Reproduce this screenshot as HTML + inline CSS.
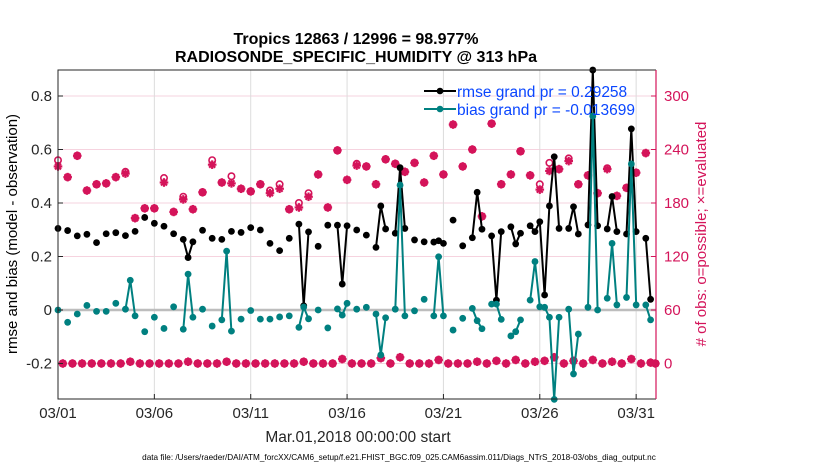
<!DOCTYPE html>
<html><head><meta charset="utf-8"><style>
body{margin:0;background:#fff;}
svg{display:block;font-family:"Liberation Sans",Arial,sans-serif;}
</style></head><body>
<svg id="chart" width="830" height="470" viewBox="0 0 830 470" xmlns="http://www.w3.org/2000/svg">
<rect width="830" height="470" fill="#fff"/>
<text x="356" y="44" font-size="16" font-weight="bold" text-anchor="middle">Tropics 12863 / 12996 = 98.977%</text>
<text x="356" y="62" font-size="16" font-weight="bold" text-anchor="middle">RADIOSONDE_SPECIFIC_HUMIDITY @ 313 hPa</text>
<g id="grid"></g>
<g id="marks"></g>
<g id="axes"></g>
<text transform="translate(17,234) rotate(-90)" font-size="15" text-anchor="middle">rmse and bias (model - observation)</text>
<text transform="translate(706,234) rotate(-90)" font-size="15" fill="#d4145a" text-anchor="middle"># of obs: o=possible; ×=evaluated</text>
<text x="358" y="442" font-size="15.5" text-anchor="middle" fill="#262626">Mar.01,2018 00:00:00 start</text>
<text x="399" y="460" font-size="8.2" text-anchor="middle">data file: /Users/raeder/DAI/ATM_forcXX/CAM6_setup/f.e21.FHIST_BGC.f09_025.CAM6assim.011/Diags_NTrS_2018-03/obs_diag_output.nc</text>
<g id="legend">
<line x1="424" y1="91" x2="456" y2="91" stroke="#000" stroke-width="2"/><circle cx="440" cy="91" r="3.3" fill="#000"/>
<text x="457" y="97" font-size="15.5" fill="#0a46ff">rmse grand pr = 0.29258</text>
<line x1="424" y1="109" x2="456" y2="109" stroke="#008080" stroke-width="2"/><circle cx="440" cy="109" r="3.3" fill="#008080"/>
<text x="457" y="115" font-size="15.5" fill="#0a46ff">bias grand pr = -0.013699</text>
</g>
</svg>
<script>
// 12-hourly values (t = 0, 0.5, ..., 31 days)
var rmse12=[0.305,0.297,0.277,0.283,0.252,0.285,0.289,0.278,0.294,0.346,0.324,0.313,0.285,0.264,0.255,0.298,0.268,0.264,0.294,0.290,0.308,0.299,0.249,0.222,0.268,0.321,0.292,0.238,0.317,0.317,0.315,0.299,0.280,0.234,0.303,0.287,0.305,0.262,0.255,0.254,0.249,0.336,0.240,0.270,0.302,0.277,0.293,0.311,0.287,0.315,0.330,0.389,0.305,0.305,0.284,0.318,0.315,0.303,0.293,0.284,0.293,0.268,null];
var bias12=[0.0,-0.046,-0.015,0.017,-0.005,-0.005,0.025,0.003,-0.022,-0.081,-0.027,-0.069,0.012,-0.072,-0.027,0.003,-0.06,-0.037,-0.079,-0.034,-0.002,-0.034,-0.034,-0.026,-0.022,-0.065,-0.033,0.0,-0.067,0.004,0.025,0.003,0.01,-0.015,-0.029,0.003,-0.022,-0.003,0.04,-0.022,-0.022,-0.075,-0.031,0.006,-0.07,0.022,-0.035,-0.097,-0.037,0.037,0.012,-0.027,-0.027,0.003,-0.09,0.01,0.0,0.044,0.019,0.047,0.019,0.019,null];
var used12=[221,209,233,194,201,202,209,213,163,174,174,203,170,184,173,192,223,203,202,196,193,201,191,196,173,175,187,212,175,239,206,222,221,201,229,224,215,225,203,233,212,268,221,240,165,269,201,212,238,211,195,216,218,227,201,211,191,218,188,197,214,236,0];
var poss12=[228,209,233,194,201,202,209,215,163,174,174,208,170,187,173,192,228,203,210,196,193,201,194,201,173,180,191,212,175,239,206,224,221,201,229,224,215,225,203,233,212,268,221,240,165,269,201,212,238,211,201,225,218,230,201,211,191,219,188,197,214,236,0];
// 6-hour offset values (t = 0.25, 0.75, ..., 30.75 days)
var rmse06=[null,null,null,null,null,null,null,null,null,null,null,null,null,0.196,null,null,null,null,null,null,null,null,null,null,null,0.016,null,null,null,0.097,null,null,null,0.389,null,0.532,null,null,null,0.259,null,null,null,0.44,null,0.037,null,0.247,null,0.293,0.056,0.573,null,0.386,null,0.897,null,0.424,null,0.677,null,0.04];
var bias06=[null,null,null,null,null,null,null,0.111,null,null,null,null,null,0.134,null,null,null,0.22,null,null,null,null,null,null,null,0.011,null,null,null,-0.019,null,null,null,-0.168,null,0.467,null,null,null,0.199,null,null,null,-0.04,null,0.022,null,-0.081,null,0.181,0.01,-0.334,null,-0.239,null,0.725,null,0.249,null,0.546,null,-0.037];
var used06=[0,0,0,0,0,0,0,2,0,0,0,0,0,2,0,0,0,2,0,0,0,0,0,0,0,2,0,0,0,5,0,0,0,6,0,7,0,0,0,4,0,0,0,2,0,3,0,4,0,2,3,7,0,3,0,4,0,2,0,5,0,1];
var xTickDays=[0,5,10,15,20,25,30];
var xTickLabels=["03/01","03/06","03/11","03/16","03/21","03/26","03/31"];
var yTicksL=[-0.2,0,0.2,0.4,0.6,0.8];
var yTickLabelsL=["-0.2","0","0.2","0.4","0.6","0.8"];
var yTicksR=[0,60,120,180,240,300];

var NS="http://www.w3.org/2000/svg";
var L=58,R=656,T=70,B=399,X0=0,X1=31.03;
function xS(t){return L+(t-X0)/(X1-X0)*(R-L);}
function yL(v){return 310-v*267.5;}
function yR(c){return yL(c/300-0.2);}
function mk(tag,at,parent){var e=document.createElementNS(NS,tag);for(var k in at)e.setAttribute(k,at[k]);parent.appendChild(e);return e;}
var grid=document.getElementById('grid'),marks=document.getElementById('marks'),axes=document.getElementById('axes');

yTicksR.forEach(function(c){var g=mk('line',{x1:L,x2:R,y1:yR(c),y2:yR(c),stroke:'#f6d3df','stroke-width':1},grid);

});
xTickDays.forEach(function(d){var g=mk('line',{x1:xS(d),x2:xS(d),y1:T,y2:B,stroke:'#dcdcdc','stroke-width':1},grid);

});
var z=mk('line',{x1:L,x2:R,y1:yL(0),y2:yL(0),stroke:'#bdbdbd','stroke-width':2.5},grid);



var times=[],rm=[],bi=[];
for(var k=0;k<rmse12.length;k++){
  times.push(k*0.5);rm.push(rmse12[k]);bi.push(bias12[k]);
  if(k<rmse06.length){times.push(k*0.5+0.25);rm.push(rmse06[k]);bi.push(bias06[k]);}
}
function pinkStar(cx,cy,parent){var g=mk('g',{stroke:'#d4145a','stroke-width':2.2},parent);var r=4.3;
mk('line',{x1:cx-r,x2:cx+r,y1:cy,y2:cy},g);mk('line',{x1:cx,x2:cx,y1:cy-r,y2:cy+r},g);
mk('line',{x1:cx-r*0.7,x2:cx+r*0.7,y1:cy-r*0.7,y2:cy+r*0.7},g);mk('line',{x1:cx-r*0.7,x2:cx+r*0.7,y1:cy+r*0.7,y2:cy-r*0.7},g);return g;}
for(var k=0;k<used12.length;k++){
  var c=mk('circle',{cx:xS(k*0.5),cy:yR(poss12[k]),r:3.2,fill:'none',stroke:'#d4145a','stroke-width':1.6},marks);
  
  
  var s=pinkStar(xS(k*0.5),yR(used12[k]),marks);
  
  
}
for(var k=0;k<used06.length;k++){
  var t=k*0.5+0.25;
  var c=mk('circle',{cx:xS(t),cy:yR(used06[k]),r:3.2,fill:'none',stroke:'#d4145a','stroke-width':1.6},marks);
  
  
  var s=pinkStar(xS(t),yR(used06[k]),marks);
  
  
}
function series(vals,color,name){
  var d='',pen=false;
  for(var i=0;i<vals.length;i++){
    if(vals[i]===null){pen=false;continue;}
    d+=(pen?'L':'M')+xS(times[i]).toFixed(1)+' '+yL(vals[i]).toFixed(1)+' ';pen=true;
  }
  var p=mk('path',{d:d,fill:'none',stroke:color,'stroke-width':2,'stroke-linejoin':'round'},marks);
  
  
  for(var i=0;i<vals.length;i++){if(vals[i]===null)continue;
    var c=mk('circle',{cx:xS(times[i]),cy:yL(vals[i]),r:3.4,fill:color},marks);
    
    }
}
series(rm,'#000','rmse');
series(bi,'#008080','bias');

var a1=mk('path',{d:'M'+R+' '+T+'L'+L+' '+T+'L'+L+' '+B+'L'+R+' '+B,fill:'none',stroke:'#262626','stroke-width':1},axes);


var a2=mk('line',{x1:R,x2:R,y1:T,y2:B,stroke:'#d4145a','stroke-width':1.2},axes);


yTicksL.forEach(function(v,i){mk('line',{x1:L,x2:L+5,y1:yL(v),y2:yL(v),stroke:'#262626'},axes);
var t=mk('text',{x:L-6,y:yL(v)+5,'font-size':15,'text-anchor':'end',fill:'#262626'},axes);t.textContent=yTickLabelsL[i];

});
yTicksR.forEach(function(c){mk('line',{x1:R-5,x2:R,y1:yR(c),y2:yR(c),stroke:'#d4145a'},axes);
var t=mk('text',{x:R+8,y:yR(c)+5,'font-size':15,fill:'#d4145a'},axes);t.textContent=c;

});
xTickDays.forEach(function(d,i){mk('line',{x1:xS(d),x2:xS(d),y1:B,y2:B-5,stroke:'#262626'},axes);
var t=mk('text',{x:xS(d),y:B+19,'font-size':15,'text-anchor':'middle',fill:'#262626'},axes);t.textContent=xTickLabels[i];

});
</script>
</body></html>
